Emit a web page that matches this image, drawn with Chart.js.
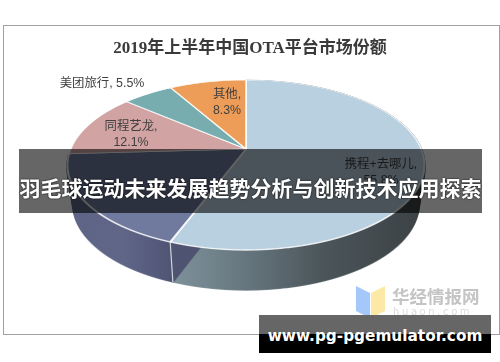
<!DOCTYPE html>
<html>
<head>
<meta charset="utf-8">
<script src="https://cdn.jsdelivr.net/npm/chart.js@4"></script>
<style>
  html, body { margin: 0; padding: 0; background: #fff; }
  #wrap { position: relative; width: 500px; height: 362px; overflow: hidden; font-family: "Noto Sans CJK SC", sans-serif; }
  #frame { position: absolute; left: 3px; top: 25px; width: 495px; height: 308px; border: 1px solid #a0a0a0; }
  canvas { position: absolute; left: 0; top: 0; }
  #logo { position: absolute; left: 356px; top: 285px; }
  #wm1 { position: absolute; left: 392px; top: 284px; font-size: 17.5px; font-weight: 700; color: #c4c4c4; line-height: 24px; white-space: nowrap; }
  #wm2 { position: absolute; left: 393px; top: 306px; font: 10px "DejaVu Sans", sans-serif; letter-spacing: 2.6px; color: #dcdcdc; white-space: nowrap; }
  #banner { position: absolute; left: 19px; top: 149px; width: 463px; height: 64px; background: rgba(0, 0, 0, .6); color: #fff; font-size: 21px; font-weight: 700; line-height: 76px; text-align: center; white-space: nowrap; text-shadow: 0 0 2px #000; }
  #site { position: absolute; left: 259px; top: 315px; width: 232px; height: 38px; background: linear-gradient(#666 0, #666 19px, #000 19px); color: #fff; font: 700 15.3px/42px "DejaVu Sans", sans-serif; text-align: center; white-space: nowrap; }
</style>
</head>
<body>
<div id="wrap">
  <div id="frame"></div>
  <canvas id="pie" width="500" height="362"></canvas>
  <svg id="logo" width="30" height="34" viewBox="0 0 30 34">
    <polygon points="0,1 14,8 14,33 0,26" fill="#a5c8fb"/>
    <polygon points="15,8 29,1 29,26 15,33" fill="#fde9a6"/>
  </svg>
  <div id="wm1">华经情报网</div>
  <div id="wm2">huaon.com</div>
  <div id="banner">羽毛球运动未来发展趋势分析与创新技术应用探索</div>
  <div id="site">www.pg-pgemulator.com</div>
</div>
<script>
// 数据
const chartTitle = '2019年上半年中国OTA平台市场份额';
const categories = ['携程+去哪儿', '', '同程艺龙', '美团旅行', '其他']; // 第二项的名称被横幅挡住
const shares = [55.8, 18.3, 12.1, 5.5, 8.3];
const sliceColors = ['#b9d0e0', '#6f7a9e', '#d1a3a2', '#78adb0', '#ee9d58'];

// 透视参数
const apexX = 246, apexY = 149, rimRadius = 175.3, flatten = 82, tilt = 0.188;
const wallDepth = 40, wallShrink = 0.035;

// 标签位置，与 categories 对应
const labelSpots = [
    { x: 381, y: 165, lines: 2 },
    null,
    { x: 131, y: 127, lines: 2 },
    { x: 102, y: 84, lines: 1 },
    { x: 227, y: 95, lines: 2 }
];

const chartWidth = 500, chartHeight = 362;

// 把圆形饼图按行投影成透视椭圆
function drawWarped(ctx, arcs) {
    const first = arcs[0];
    const cx = first.x, cy = first.y, r = first.outerRadius;
    const top = Math.floor(apexY - flatten / (1 + tilt)) - 2;
    const bottom = Math.ceil(apexY + flatten / (1 - tilt)) + 2;
    for (let row = top; row < bottom; row++) {
        const mid = row + 0.5 - apexY;
        const v = mid / (flatten + tilt * mid);
        const w = 1 - tilt * v;
        const sx = rimRadius / (w * r);
        const sy = flatten / (w * w * r);
        ctx.save();
        ctx.beginPath();
        ctx.rect(0, row, chartWidth, 1);
        ctx.clip();
        ctx.setTransform(sx, 0, 0, sy, apexX - sx * cx, row + 0.5 - sy * (cy + r * v));
        arcs.forEach(arc => arc.draw(ctx));
        ctx.restore();
    }
}

function newLayer() {
    const layer = document.createElement('canvas');
    layer.width = chartWidth;
    layer.height = chartHeight;
    return layer;
}

// 侧壁：切片轮廓向下堆叠，再用横向渐变上色
function drawWall(ctx, arc, stops) {
    const shape = newLayer();
    drawWarped(shape.getContext('2d'), [arc]);
    const wall = newLayer();
    const wctx = wall.getContext('2d');
    for (let d = wallDepth; d >= 0; d--) {
        const s = 1 - wallShrink * d / wallDepth;
        wctx.setTransform(s, 0, 0, 1, apexX * (1 - s), d);
        wctx.drawImage(shape, 0, 0);
    }
    wctx.setTransform(1, 0, 0, 1, 0, 0);
    wctx.globalCompositeOperation = 'source-atop';
    const grad = wctx.createLinearGradient(apexX - rimRadius, 0, apexX + rimRadius, 0);
    stops.forEach(s => grad.addColorStop(s[0], s[1]));
    wctx.fillStyle = grad;
    wctx.fillRect(0, 0, chartWidth, chartHeight);
    ctx.drawImage(wall, 0, 0);
}

// 两块切片之间侧壁上的浅色竖线
function drawWallSeam(ctx, arc) {
    const w = 1 - tilt * Math.sin(arc.endAngle);
    const x = apexX + rimRadius * Math.cos(arc.endAngle) / w;
    const y = apexY + flatten * Math.sin(arc.endAngle) / w;
    ctx.save();
    ctx.strokeStyle = '#cfd6da';
    ctx.lineWidth = 1.2;
    ctx.beginPath();
    ctx.moveTo(x, y);
    ctx.lineTo(x + (apexX - x) * wallShrink, y + wallDepth);
    ctx.stroke();
    ctx.restore();
}

const perspectivePie = {
    id: 'perspectivePie',
    beforeDatasetsDraw(chart) {
        const ctx = chart.ctx;
        const arcs = chart.getDatasetMeta(0).data;
        drawWall(ctx, arcs[0], [[0, '#a2b4bd'], [0.28, '#7f939c'], [0.5, '#66767e'], [0.72, '#4b555a'], [1, '#3c4245']]);
        drawWall(ctx, arcs[1], [[0, '#5d6485'], [0.15, '#5f6688'], [0.3, '#4f5372'], [1, '#4f5372']]);
        drawWallSeam(ctx, arcs[0]);
        drawWarped(ctx, arcs);
        return false;
    },
    afterDraw(chart) {
        const ctx = chart.ctx;
        ctx.save();
        ctx.fillStyle = '#404040';
        ctx.font = '12.4px "Liberation Sans", "Noto Sans CJK SC"';
        ctx.textAlign = 'center';
        ctx.textBaseline = 'middle';
        labelSpots.forEach((spot, i) => {
            if (!spot) return;
            if (spot.lines === 1) {
                ctx.fillText(`${categories[i]}, ${shares[i]}%`, spot.x, spot.y);
            } else {
                ctx.fillText(`${categories[i]},`, spot.x, spot.y);
                ctx.fillText(`${shares[i]}%`, spot.x, spot.y + 16);
            }
        });
        ctx.restore();
    }
};

new Chart(document.getElementById('pie'), {
    type: 'pie',
    data: {
        labels: categories,
        datasets: [{
            data: shares,
            backgroundColor: sliceColors,
            borderColor: 'rgba(255, 255, 255, 0.85)',
            borderWidth: 1.6
        }]
    },
    options: {
        responsive: false,
        animation: false,
        plugins: {
            legend: { display: false },
            tooltip: { enabled: false },
            title: {
                display: true,
                text: chartTitle,
                color: '#3a3a3a',
                font: { family: '"Liberation Serif", "Noto Sans CJK SC"', size: 17, weight: 'bold' },
                padding: { top: 38, bottom: 6 }
            }
        }
    },
    plugins: [perspectivePie]
});
</script>
</body>
</html>
